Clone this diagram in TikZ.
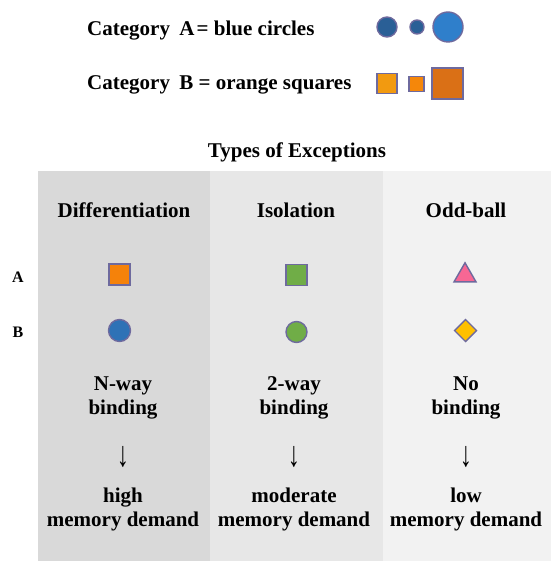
\documentclass[tikz,border=0pt]{standalone}
\usepackage{fontspec}
\usepackage{graphicx}
\setmainfont{Liberation Serif}
\usetikzlibrary{shapes.geometric}
\definecolor{panelA}{HTML}{D9D9D9}
\definecolor{panelB}{HTML}{E7E7E7}
\definecolor{panelC}{HTML}{F2F2F2}
\definecolor{edgec}{HTML}{6E6A9E}
\definecolor{blueA}{HTML}{2A5F96}
\definecolor{blueC}{HTML}{2F7FCB}
\definecolor{orgA}{HTML}{F29A10}
\definecolor{orgB}{HTML}{F5870A}
\definecolor{orgC}{HTML}{DA7016}
\definecolor{orgSq}{HTML}{F5820A}
\definecolor{grn}{HTML}{70AD47}
\definecolor{pink}{HTML}{F76794}
\definecolor{blueB}{HTML}{2E72B6}
\definecolor{gold}{HTML}{FFC000}
\tikzset{
  txt/.style={font=\fontsize{21}{24}\selectfont\bfseries, align=center, inner sep=0pt, anchor=base},
  lbl/.style={font=\fontsize{16}{18}\selectfont\bfseries, inner sep=0pt, anchor=base},
  arr/.style={font=\fontsize{21}{24}\selectfont, inner sep=0pt, anchor=base},
  shp/.style={draw=edgec, line width=1.4pt, inner sep=0pt, outer sep=0pt},
  circ/.style={shp, circle, minimum size=#1},
  sq/.style={shp, rectangle, minimum size=#1},
}
\begin{document}
\begin{tikzpicture}[x=1pt,y=-1pt]
\useasboundingbox (0,0) rectangle (551,561);
\fill[white] (0,0) rectangle (551,561);
% panels
\fill[panelA] (38,171) rectangle (210,561);
\fill[panelB] (210,171) rectangle (383,561);
\fill[panelC] (383,171) rectangle (551,561);
% legend
\node[txt, anchor=base west] (legA) at (87,36) {Category\hspace{0.45em}A\hspace{0.1em}= blue circles};
\node[txt, anchor=base west] (legB) at (87,90) {Category\hspace{0.45em}B = orange squares};
\node[circ=20pt, fill=blueA] (c1) at (387,27) {};
\node[circ=14pt, fill=blueA] (c2) at (417,27) {};
\node[circ=30pt, fill=blueC] (c3) at (448,27) {};
\node[sq=20pt, fill=orgA] (s1) at (387,83.5) {};
\node[sq=15pt, fill=orgB] (s2) at (416.5,84) {};
\node[sq=31pt, fill=orgC] (s3) at (447.5,83.5) {};
% title
\node[txt] (title) at (297,158) {Types of Exceptions};
% headers
\node[txt] (h1) at (124,217) {Differentiation};
\node[txt] (h2) at (296,217) {Isolation};
\node[txt] (h3) at (466,217) {Odd-ball};
% row labels
\node[lbl] (rA) at (18,282) {A};
\node[lbl] (rB) at (18,337) {B};
% row A
\node[sq=21pt, fill=orgSq] (a1) at (119.5,274.5) {};
\node[sq=21pt, fill=grn] (a2) at (296.5,275) {};
\node[shp, fill=pink, isosceles triangle, isosceles triangle apex angle=60, shape border rotate=90, minimum height=19pt, minimum width=22pt] (a3) at (465,275.5) {};
% row B
\node[circ=22pt, fill=blueB] (b1) at (119.5,330.5) {};
\node[circ=21pt, fill=grn] (b2) at (296.5,332) {};
\node[shp, fill=gold, diamond, minimum size=22pt] (b3) at (465.5,330.5) {};
% binding
\node[txt] (n1) at (123,414) {N-way\\binding};
\node[txt] (n2) at (294,414) {2-way\\binding};
\node[txt] (n3) at (466,414) {No\\binding};
\node[arr] (d1) at (123,466) {\scalebox{1.15}[1.7]{↓}};
\node[arr] (d2) at (294,466) {\scalebox{1.15}[1.7]{↓}};
\node[arr] (d3) at (466,466) {\scalebox{1.15}[1.7]{↓}};
\node[txt] (m1) at (123,526) {high\\memory demand};
\node[txt] (m2) at (294,526) {moderate\\memory demand};
\node[txt] (m3) at (466,526) {low\\memory demand};
\end{tikzpicture}
\end{document}
